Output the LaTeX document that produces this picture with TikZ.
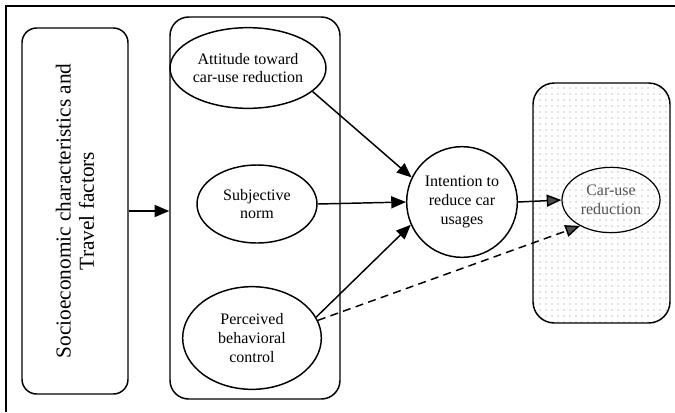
\documentclass[tikz,border=0pt]{standalone}
\usepackage{fontspec}
\setmainfont{Liberation Serif}
\usetikzlibrary{shapes.geometric,arrows.meta,patterns.meta}
\begin{document}
\begin{tikzpicture}
			[x=0.75pt, y=-0.75pt, line width=1.1pt,
			panel/.style={draw, inner sep=0pt, rounded corners=14pt},
			factor/.style={draw, ellipse, inner sep=0pt, align=center,
				font=\fontsize{12}{14}\selectfont},
			link/.style={-{Triangle[length=11pt,width=9pt]}},
			grayhead/.style={-{Triangle[length=11pt,width=9pt,fill=gray!60!black]}}]
			\useasboundingbox (0,0) rectangle (675,412);
			\draw (675,6) -- (6,6) -- (6,412);
			\node[panel, rotate=90, minimum width=274.5pt, minimum height=79.5pt,
				align=center, font=\fontsize{16}{17.5}\selectfont,
				rounded corners=11pt] (socio) at (75,211)
				{Socioeconomic characteristics and\\Travel factors};
			\node[panel, minimum width=127.5pt, minimum height=286.5pt] (beliefs) at (255,208) {};
			\node[panel, minimum width=102.75pt, minimum height=180pt, rounded corners=16pt,
				pattern={Dots[distance=4.5pt,radius=0.55pt]}, pattern color=gray] (behaviour) at (601.5,203) {};
			\node[factor, minimum width=105pt, minimum height=60.5pt] (attitude) at (248,68)
				{Attitude toward\\car-use reduction};
			\node[factor, minimum width=90pt, minimum height=58.5pt] (norm) at (257,204)
				{Subjective\\norm};
			\node[factor, minimum width=104pt, minimum height=77pt] (control) at (252,338)
				{Perceived\\behavioral\\control};
			\node[factor, circle, minimum size=83pt] (intention) at (462,202)
				{Intention to\\reduce car\\usages};
			\node[factor, minimum width=73.5pt, minimum height=49pt, line width=0.9pt,
				text=gray!65!black] (caruse) at (611,200)
				{Car-use\\reduction};
			\draw[link] (socio.south) -- (socio.south -| beliefs.west);
			\draw[link] (attitude.-20) -- (intention.154);
			\draw[link] (norm.east) -- (intention.west);
			\draw[link] (control.18) -- (intention.204);
			\draw[grayhead] (intention.east) -- (caruse.west);
			\draw[grayhead, dashed, dash pattern=on 6pt off 4pt] (control.15) -- (caruse.220);
		\end{tikzpicture}
\end{document}
